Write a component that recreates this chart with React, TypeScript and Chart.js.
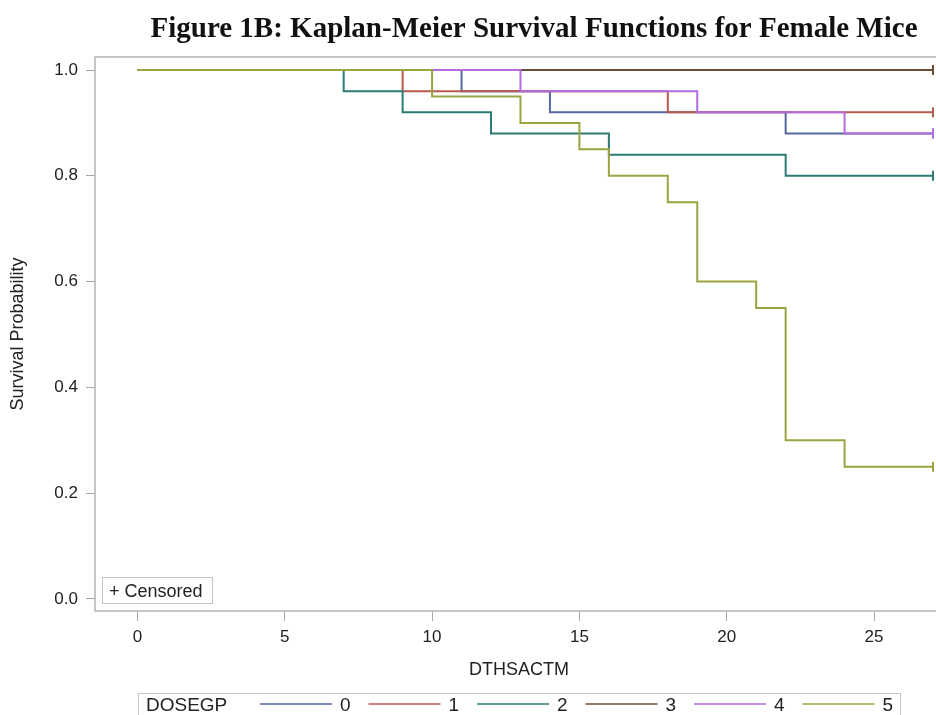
import React, { useEffect, useRef } from "react";
import { Chart, registerables } from "chart.js";

Chart.register(...registerables);

// ---- data ----
const groupLabels = ["0", "1", "2", "3", "4", "5"];
const groupColors = ["#56689d", "#b65a4e", "#2c7a74", "#6a4f34", "#b56be0", "#9ba441"];

const times0 = [0, 11, 14, 22, 27];
const surv0 = [1.0, 0.96, 0.92, 0.88, 0.88];
const times1 = [0, 9, 18, 27];
const surv1 = [1.0, 0.96, 0.92, 0.92];
const times2 = [0, 7, 9, 12, 16, 22, 27];
const surv2 = [1.0, 0.96, 0.92, 0.88, 0.84, 0.8, 0.8];
const times3 = [0, 27];
const surv3 = [1.0, 1.0];
const times4 = [0, 13, 19, 24, 27];
const surv4 = [1.0, 0.96, 0.92, 0.88, 0.88];
const times5 = [0, 10, 13, 15, 16, 18, 19, 21, 22, 24, 27];
const surv5 = [1.0, 0.95, 0.9, 0.85, 0.8, 0.75, 0.6, 0.55, 0.3, 0.25, 0.25];

const censorTime = [27, 27, 27, 27, 27, 27];

const xTicks = [0, 5, 10, 15, 20, 25];
const yTicks = [0.0, 0.2, 0.4, 0.6, 0.8, 1.0];

const allTimes = [times0, times1, times2, times3, times4, times5];
const allSurv = [surv0, surv1, surv2, surv3, surv4, surv5];

const titleText = "Figure 1B: Kaplan-Meier Survival Functions for Female Mice";
const xTitle = "DTHSACTM";
const yTitle = "Survival Probability";
const legendTitle = "DOSEGP";
const censorText = "+ Censored";

const SANS = "'Liberation Sans', Arial, sans-serif";
const SERIF = "'Liberation Serif', 'Times New Roman', serif";

const framePlugin = {
  id: "frame",
  beforeDatasetsDraw(chart: any) {
    const { ctx, chartArea } = chart;
    ctx.save();
    ctx.strokeStyle = "#b4b4b4";
    ctx.lineWidth = 1.5;
    ctx.strokeRect(chartArea.left, chartArea.top, chartArea.right - chartArea.left, chartArea.bottom - chartArea.top);
    ctx.restore();
  },
};

const decorPlugin = {
  id: "decor",
  afterDraw(chart: any) {
    const { ctx } = chart;
    ctx.save();
    // title
    ctx.fillStyle = "#111";
    ctx.font = `bold 29px ${SERIF}`;
    ctx.textAlign = "center";
    ctx.textBaseline = "alphabetic";
    ctx.fillText(titleText, 534, 37, 774);

    // censored box
    ctx.fillStyle = "#fff";
    ctx.fillRect(102, 577, 110, 26);
    ctx.strokeStyle = "#c4c4c4";
    ctx.lineWidth = 1;
    ctx.strokeRect(102.5, 577.5, 110, 26);
    ctx.fillStyle = "#222";
    ctx.font = `18px ${SANS}`;
    ctx.textAlign = "left";
    ctx.fillText(censorText, 109, 597);

    // legend
    ctx.strokeStyle = "#c4c4c4";
    ctx.lineWidth = 1;
    ctx.strokeRect(138.5, 693.5, 762, 40);
    ctx.fillStyle = "#222";
    ctx.font = `19px ${SANS}`;
    ctx.fillText(legendTitle, 146, 711);
    groupLabels.forEach((lab, i) => {
      const x0 = 260 + i * 108.5;
      ctx.strokeStyle = groupColors[i];
      ctx.lineWidth = 1.5;
      ctx.beginPath();
      ctx.moveTo(x0, 704);
      ctx.lineTo(x0 + 72, 704);
      ctx.stroke();
      ctx.fillStyle = "#222";
      ctx.fillText(lab, x0 + 80, 711);
    });
    ctx.restore();
  },
};

export default function App() {
  const ref = useRef<HTMLCanvasElement | null>(null);

  useEffect(() => {
    if (!ref.current) return;
    const datasets = groupLabels.map((lab, i) => {
      const pts = allTimes[i].map((t, j) => ({ x: t, y: allSurv[i][j] }));
      const last = pts.length - 1;
      return {
        label: lab,
        data: pts,
        stepped: true,
        borderColor: groupColors[i],
        backgroundColor: groupColors[i],
        borderWidth: 2,
        fill: false,
        order: groupLabels.length - i,
        pointStyle: "line",
        rotation: 90,
        pointBorderColor: groupColors[i],
        pointBorderWidth: 2,
        pointRadius: (c: any) => (c.dataIndex === last && allTimes[i][last] === censorTime[i] ? 5 : 0),
        pointHoverRadius: 0,
      };
    });

    const chart = new Chart(ref.current, {
      type: "line",
      data: { datasets: datasets as any },
      options: {
        responsive: false,
        animation: false,
        devicePixelRatio: 1,
        events: [],
        layout: { padding: { left: 0, right: 7, top: 57, bottom: 0 } },
        plugins: {
          legend: { display: false },
          tooltip: { enabled: false },
          title: { display: false },
        },
        scales: {
          x: {
            type: "linear",
            min: -1.44,
            max: 27.34,
            afterFit: (s: any) => {
              s.height = 104;
            },
            afterBuildTicks: (s: any) => {
              s.ticks = xTicks.map((v) => ({ value: v }));
            },
            grid: { drawOnChartArea: false, drawTicks: true, tickLength: 10, color: "#a8a8a8", lineWidth: 1 },
            border: { display: false },
            ticks: {
              padding: 6,
              color: "#222",
              font: { family: SANS, size: 17 },
              maxRotation: 0,
              autoSkip: false,
              callback: (v: any) => String(v),
            },
            title: {
              display: true,
              text: xTitle,
              color: "#222",
              font: { family: SANS, size: 18 },
              padding: { top: 4, bottom: 34 },
            },
          },
          y: {
            type: "linear",
            min: -0.0227,
            max: 1.0246,
            afterFit: (s: any) => {
              s.width = 95;
            },
            afterBuildTicks: (s: any) => {
              s.ticks = yTicks.map((v) => ({ value: v }));
            },
            grid: { drawOnChartArea: false, drawTicks: true, tickLength: 9, color: "#a8a8a8", lineWidth: 1 },
            border: { display: false },
            ticks: {
              padding: 8,
              color: "#222",
              font: { family: SANS, size: 17 },
              autoSkip: false,
              callback: (v: any) => Number(v).toFixed(1),
            },
            title: {
              display: true,
              text: yTitle,
              color: "#222",
              font: { family: SANS, size: 18 },
              padding: { top: 7, bottom: 0 },
            },
          },
        },
      },
      plugins: [framePlugin, decorPlugin],
    });
    return () => chart.destroy();
  }, []);

  return (
    <div
      style={{
        position: "absolute",
        left: 0,
        top: 0,
        width: 936,
        height: 715,
        overflow: "hidden",
        background: "#fff",
      }}
    >
      <canvas ref={ref} width={950} height={715} style={{ display: "block", width: 950, height: 715 }} />
    </div>
  );
}
